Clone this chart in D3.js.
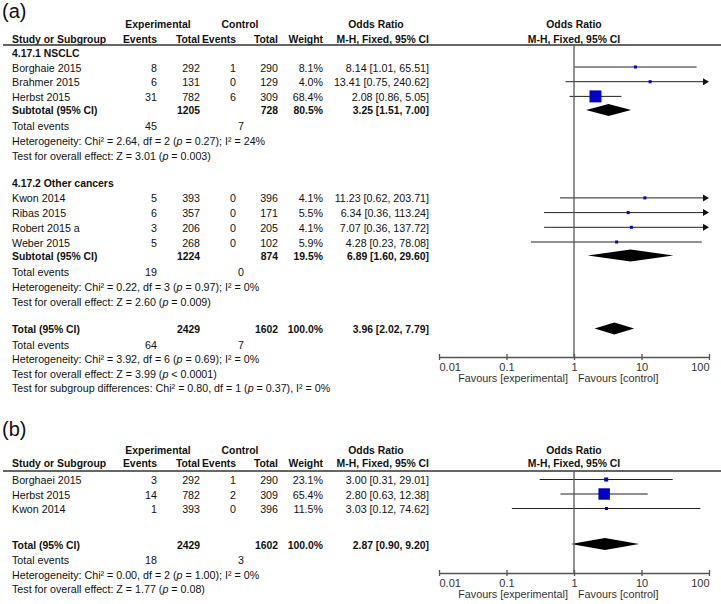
<!DOCTYPE html>
<html><head><meta charset="utf-8">
<script src="https://cdn.jsdelivr.net/npm/d3@7"></script>
<style>body{margin:0;background:#fff} svg{display:block}</style>
</head><body><svg id="c" width="721" height="604"></svg>
<script>
// ---------------- DATA: panel (a) ----------------
const studiesA = ["Borghaie 2015","Brahmer 2015","Herbst 2015","Kwon 2014","Ribas 2015","Robert 2015 a","Weber 2015"];
const groupOfA = [0,0,0,1,1,1,1];
const expEventsA = [8,6,31,5,6,3,5];
const expTotalA = [292,131,782,393,357,206,268];
const ctlEventsA = [1,0,6,0,0,0,0];
const ctlTotalA = [290,129,309,396,171,205,102];
const weightA = [8.1,4.0,68.4,4.1,5.5,4.1,5.9];
const orA = [8.14,13.41,2.08,11.23,6.34,7.07,4.28];
const loA = [1.01,0.75,0.86,0.62,0.36,0.36,0.23];
const hiA = [65.51,240.62,5.05,203.71,113.24,137.72,78.08];

const groupNamesA = ["4.17.1 NSCLC","4.17.2 Other cancers"];
const groupExpTotalA = [1205,1224];
const groupCtlTotalA = [728,874];
const groupWeightA = [80.5,19.5];
const groupOrA = [3.25,6.89];
const groupLoA = [1.51,1.60];
const groupHiA = [7.00,29.60];
const groupExpEventsA = [45,19];
const groupCtlEventsA = [7,0];
const groupChiA = ["2.64","0.22"];
const groupDfA = [2,3];
const groupHetPA = ["= 0.27","= 0.97"];
const groupI2A = [24,0];
const groupZA = ["3.01","2.60"];
const groupZPA = ["= 0.003","= 0.009"];
const subgroupDiffA = ["0.80", 1, "= 0.37", 0]; // Chi², df, p, I²

// ---------------- DATA: panel (b) ----------------
const studiesB = ["Borghaei 2015","Herbst 2015","Kwon 2014"];
const expEventsB = [3,14,1];
const expTotalB = [292,782,393];
const ctlEventsB = [1,2,0];
const ctlTotalB = [290,309,396];
const weightB = [23.1,65.4,11.5];
const orB = [3.00,2.80,3.03];
const loB = [0.31,0.63,0.12];
const hiB = [29.01,12.38,74.62];

// ---------------- DATA: overall totals, index 0 = (a), 1 = (b) ----------------
const panelLabels = ["(a)","(b)"];
const overallExpTotal = [2429,2429];
const overallCtlTotal = [1602,1602];
const overallWeight = [100.0,100.0];
const overallOr = [3.96,2.87];
const overallLo = [2.02,0.90];
const overallHi = [7.79,9.20];
const overallExpEvents = [64,18];
const overallCtlEvents = [7,3];
const overallChi = ["3.92","0.00"];
const overallDf = [6,2];
const overallHetP = ["= 0.69","= 1.00"];
const overallI2 = [0,0];
const overallZ = ["3.99","1.77"];
const overallZP = ["< 0.0001","= 0.08"];

const tickValues = [0.01,0.1,1,10,100];
const tickLabels = ["0.01","0.1","1","10","100"];
const favourLabels = ["Favours [experimental]","Favours [control]"];

// ---------------- DRAWING ----------------
const FONT = '"Liberation Sans", Arial, Helvetica, sans-serif';
const svg = d3.select("#c").style("font-family", FONT);
const TXT = "#111";
const FS = 10.7, FSB = 10.4;
const col = {name:12, ee:157, et:200, ce:236, ct:278, w:323, or:429, ceTot:244, expHead:158, ctlHead:240, orHead:376};
const x = d3.scaleLog().domain([0.01,100]).range([439,709]);
const boxSize = d3.scaleLinear().domain([0,100]).range([0,17.5]);
const fmtOR = (o,l,h) => `${o.toFixed(2)} [${l.toFixed(2)}, ${h.toFixed(2)}]`;
const fmtW = w => w.toFixed(1) + "%";

function txt(x0, y, s, o = {}) {
  return svg.append("text").attr("x", x0).attr("y", y + 4)
    .attr("text-anchor", o.anchor || "start")
    .attr("font-size", o.bold ? FSB : FS)
    .attr("font-weight", o.bold ? "bold" : "normal")
    .attr("fill", o.fill || TXT).text(s);
}
function statLine(y, parts) {
  const t = svg.append("text").attr("x", col.name).attr("y", y + 4)
    .attr("font-size", FS).attr("fill", TXT);
  parts.forEach(([s, it]) => t.append("tspan").attr("font-style", it ? "italic" : "normal").text(s));
}
const hetParts = (chi, df, p, i2) => [[`Heterogeneity: Chi² = ${chi}, df = ${df} (`], ["p", true], [` ${p}); I² = ${i2}%`]];
const testParts = (z, p) => [[`Test for overall effect: Z = ${z} (`], ["p", true], [` ${p})`]];

function header(y1, y2, yl) {
  txt(col.expHead, y1, "Experimental", {bold:true, anchor:"middle"});
  txt(col.ctlHead, y1, "Control", {bold:true, anchor:"middle"});
  txt(col.orHead, y1, "Odds Ratio", {bold:true, anchor:"middle"});
  txt(x(1), y1, "Odds Ratio", {bold:true, anchor:"middle"});
  txt(col.name, y2, "Study or Subgroup", {bold:true});
  txt(col.ee, y2, "Events", {bold:true, anchor:"end"});
  txt(col.et, y2, "Total", {bold:true, anchor:"end"});
  txt(col.ce, y2, "Events", {bold:true, anchor:"end"});
  txt(col.ct, y2, "Total", {bold:true, anchor:"end"});
  txt(col.w, y2, "Weight", {bold:true, anchor:"end"});
  txt(col.or, y2, "M-H, Fixed, 95% CI", {bold:true, anchor:"end"});
  txt(x(1), y2, "M-H, Fixed, 95% CI", {bold:true, anchor:"middle"});
  svg.append("line").attr("x1", 3).attr("x2", 721).attr("y1", yl).attr("y2", yl)
    .attr("stroke", "#333").attr("stroke-width", 1.5);
}
function studyRow(y, name, ee, et, ce, ct, w, o, l, h) {
  txt(col.name, y, name);
  txt(col.ee, y, ee, {anchor:"end"});
  txt(col.et, y, et, {anchor:"end"});
  txt(col.ce, y, ce, {anchor:"end"});
  txt(col.ct, y, ct, {anchor:"end"});
  txt(col.w, y, fmtW(w), {anchor:"end"});
  txt(col.or, y, fmtOR(o, l, h), {anchor:"end"});
  const ym = y - 0.5;
  const xl = x(Math.max(l, 0.01)), xh = x(Math.min(h, 100));
  const arrowR = h > 100, arrowL = l < 0.01;
  svg.append("line").attr("x1", arrowL ? xl + 5 : xl).attr("x2", arrowR ? xh - 5 : xh)
    .attr("y1", ym).attr("y2", ym).attr("stroke", "#222").attr("stroke-width", 1);
  if (arrowR) svg.append("path").attr("d", `M${xh},${ym}L${xh-6},${ym-3.5}L${xh-6},${ym+3.5}Z`).attr("fill", "#111");
  if (arrowL) svg.append("path").attr("d", `M${xl},${ym}L${xl+6},${ym-3.5}L${xl+6},${ym+3.5}Z`).attr("fill", "#111");
  const s = Math.max(3, boxSize(w));
  svg.append("rect").attr("x", x(o) - s/2).attr("y", ym - s/2).attr("width", s).attr("height", s).attr("fill", "#0000c8");
}
function summaryRow(y, label, et, ct, w, o, l, h) {
  txt(col.name, y, label, {bold:true});
  txt(col.et, y, et, {bold:true, anchor:"end"});
  txt(col.ct, y, ct, {bold:true, anchor:"end"});
  txt(col.w, y, fmtW(w), {bold:true, anchor:"end"});
  txt(col.or, y, fmtOR(o, l, h), {bold:true, anchor:"end"});
  const ym = y - 0.5, hh = 6;
  svg.append("path").attr("d", `M${x(l)},${ym}L${x(o)},${ym-hh}L${x(h)},${ym}L${x(o)},${ym+hh}Z`).attr("fill", "#000");
}
function totalEvents(y, e, c) {
  txt(col.name, y, "Total events");
  txt(col.ee, y, e, {anchor:"end"});
  txt(col.ceTot, y, c, {anchor:"end"});
}
function axis(yTop, yAxis) {
  svg.append("line").attr("x1", x(1)).attr("x2", x(1)).attr("y1", yTop).attr("y2", yAxis)
    .attr("stroke", "#555").attr("stroke-width", 1.3);
  const g = svg.append("g").attr("transform", `translate(0,${yAxis})`);
  g.call(d3.axisBottom(x).tickValues(tickValues).tickFormat((d, i) => tickLabels[i]).tickSize(3).tickSizeOuter(0).tickPadding(3));
  g.select(".domain").attr("stroke", "#555").attr("stroke-width", 1.3);
  g.selectAll(".tick line").attr("y1", -3).attr("y2", 3).attr("stroke", "#555").attr("stroke-width", 1.3);
  g.selectAll(".tick text").attr("font-size", 11).attr("fill", "#333").attr("font-family", FONT)
    .attr("text-anchor", (d, i) => i === 0 ? "start" : (i === tickValues.length - 1 ? "end" : "middle"));
  svg.append("text").attr("x", x(1) - 6).attr("y", yAxis + 25).attr("text-anchor", "end")
    .attr("font-size", 10.8).attr("fill", "#333").text(favourLabels[0]);
  svg.append("text").attr("x", x(1) + 4).attr("y", yAxis + 25).attr("text-anchor", "start")
    .attr("font-size", 10.8).attr("fill", "#333").text(favourLabels[1]);
}

// ----- Panel (a) -----
svg.append("text").attr("x", 2).attr("y", 18).attr("font-size", 20).attr("fill", TXT).text(panelLabels[0]);
header(24, 39, 45);
let y = 52.5;
groupNamesA.forEach((gname, gi) => {
  txt(col.name, y, gname, {bold:true});
  const idx = d3.range(studiesA.length).filter(i => groupOfA[i] === gi);
  let yy = y + 15;
  idx.forEach((i, k) => {
    yy = y + 15 + k * 14.7;
    studyRow(yy, studiesA[i], expEventsA[i], expTotalA[i], ctlEventsA[i], ctlTotalA[i], weightA[i], orA[i], loA[i], hiA[i]);
  });
  const ys = yy + 13.5;
  summaryRow(ys, "Subtotal (95% CI)", groupExpTotalA[gi], groupCtlTotalA[gi], groupWeightA[gi], groupOrA[gi], groupLoA[gi], groupHiA[gi]);
  totalEvents(ys + 16, groupExpEventsA[gi], groupCtlEventsA[gi]);
  statLine(ys + 31, hetParts(groupChiA[gi], groupDfA[gi], groupHetPA[gi], groupI2A[gi]));
  statLine(ys + 45.5, testParts(groupZA[gi], groupZPA[gi]));
  y = ys + 45.5 + 27.5;
});
summaryRow(y, "Total (95% CI)", overallExpTotal[0], overallCtlTotal[0], overallWeight[0], overallOr[0], overallLo[0], overallHi[0]);
totalEvents(y + 15.5, overallExpEvents[0], overallCtlEvents[0]);
statLine(y + 30, hetParts(overallChi[0], overallDf[0], overallHetP[0], overallI2[0]));
statLine(y + 44.5, testParts(overallZ[0], overallZP[0]));
statLine(y + 59, [[`Test for subgroup differences: Chi² = ${subgroupDiffA[0]}, df = ${subgroupDiffA[1]} (`], ["p", true], [` ${subgroupDiffA[2]}), I² = ${subgroupDiffA[3]}%`]]);
axis(45, 357);

// ----- Panel (b) -----
svg.append("text").attr("x", 2).attr("y", 436).attr("font-size", 20).attr("fill", TXT).text(panelLabels[1]);
header(450, 463, 471);
studiesB.forEach((n, i) => {
  studyRow(480 + i * 14.5, n, expEventsB[i], expTotalB[i], ctlEventsB[i], ctlTotalB[i], weightB[i], orB[i], loB[i], hiB[i]);
});
const yb = 544.5;
summaryRow(yb, "Total (95% CI)", overallExpTotal[1], overallCtlTotal[1], overallWeight[1], overallOr[1], overallLo[1], overallHi[1]);
totalEvents(yb + 15.5, overallExpEvents[1], overallCtlEvents[1]);
statLine(yb + 30, hetParts(overallChi[1], overallDf[1], overallHetP[1], overallI2[1]));
statLine(yb + 44, testParts(overallZ[1], overallZP[1]));
axis(471, 573);
</script>
</body></html>
